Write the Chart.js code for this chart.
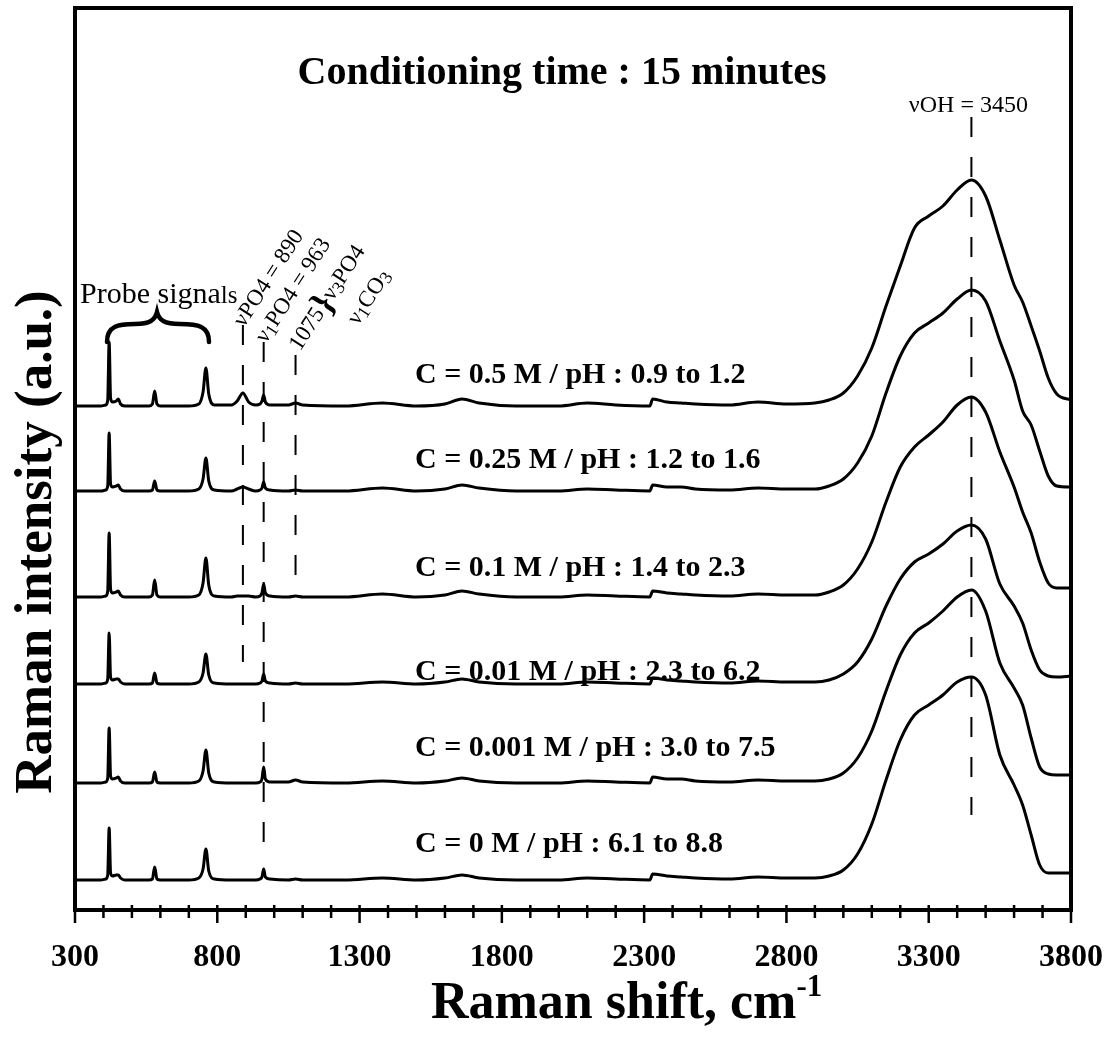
<!DOCTYPE html>
<html>
<head>
<meta charset="utf-8">
<script src="https://cdn.jsdelivr.net/npm/chart.js@4/dist/chart.umd.min.js"></script>
<style>
  html, body { margin: 0; padding: 0; background: #fff; }
  #wrap { width: 1116px; height: 1037px; position: relative; }
</style>
</head>
<body>
<div id="wrap"><canvas id="raman"></canvas></div>
<script>
// Raman shift grid (cm-1), shared by all spectra
const shift = [
  300, 390, 408, 415, 420, 425, 432, 445, 452, 460, 475,
  560, 572, 580, 588, 600,
  700, 735, 750, 760, 770, 790,
  850, 870, 890, 910, 935,
  950, 957, 963, 969, 985,
  1050, 1075, 1100,
  1250, 1380, 1500,
  1600, 1660, 1720, 1850,
  2000, 2100, 2200, 2320, 2330, 2380,
  2430, 2480, 2600, 2700, 2800,
  2900, 2950, 3000, 3050, 3100, 3150, 3200, 3250, 3300, 3350, 3400, 3450, 3500, 3550, 3600, 3630, 3660, 3690, 3720, 3750, 3800
];

// intensities above each spectrum's own baseline (a.u.)
const int_05 = [
  0, 0, 1, 6, 64, 8, 4, 5, 7, 2, 0,
  0, 2, 15, 2, 0,
  0, 2, 14, 38, 12, 1,
  1, 5, 13, 4, 1,
  2, 5, 11, 4, 1,
  1, 3, 1,
  0, 3, 0,
  2, 7, 3, 0,
  0, 3, 1, 0, 7, 4,
  3, 2, 1, 4, 2,
  3, 6, 13, 30, 58, 100, 140, 178, 190, 200, 216, 226, 210, 166, 121, 104, 80, 55, 28, 12, 6
];
const int_025 = [
  0, 0, 1, 5, 58, 7, 4, 5, 6, 2, 0,
  0, 1, 10, 1, 0,
  0, 2, 12, 33, 10, 1,
  0, 2, 4, 2, 0,
  1, 3, 9, 3, 1,
  0, 1, 0,
  0, 3, 0,
  2, 6, 3, 0,
  0, 2, 1, 0, 6, 4,
  4, 2, 1, 3, 2,
  2, 5, 12, 28, 55, 98, 135, 158, 168, 178, 192, 201, 190, 150, 111, 80, 66, 40, 15, 5, 4
];
const int_01 = [
  0, 0, 1, 6, 64, 8, 4, 5, 6, 2, 0,
  0, 2, 17, 2, 0,
  0, 2, 14, 39, 12, 1,
  0, 1, 1, 1, 0,
  1, 4, 13, 4, 1,
  0, 1, 0,
  0, 3, 0,
  2, 6, 3, 0,
  0, 2, 1, 0, 6, 4,
  3, 2, 1, 3, 2,
  2, 5, 12, 28, 55, 95, 130, 150, 162, 175, 192, 200, 185, 145, 110, 85, 64, 35, 14, 9, 9
];
const int_001 = [
  0, 0, 1, 5, 51, 7, 4, 5, 5, 2, 0,
  0, 1, 11, 1, 0,
  0, 2, 11, 30, 9, 1,
  0, 0, 0, 0, 0,
  1, 3, 10, 3, 1,
  0, 1, 0,
  0, 2, 0,
  2, 5, 2, 0,
  0, 2, 1, 0, 6, 4,
  3, 2, 1, 3, 2,
  2, 4, 10, 22, 45, 78, 105, 122, 130, 140, 153, 159, 145, 100, 78, 61, 34, 14, 8, 7, 8
];
const int_0001 = [
  0, 0, 1, 5, 55, 7, 4, 5, 6, 2, 0,
  0, 1, 11, 1, 0,
  0, 2, 12, 33, 10, 1,
  0, 0, 0, 0, 0,
  1, 4, 16, 4, 1,
  1, 3, 1,
  0, 2, 0,
  2, 5, 2, 0,
  0, 2, 1, 0, 6, 4,
  4, 2, 1, 3, 2,
  2, 4, 10, 25, 52, 92, 128, 150, 160, 172, 186, 193, 172, 120, 95, 78, 45, 16, 9, 8, 8
];
const int_0 = [
  0, 0, 1, 5, 52, 7, 4, 5, 5, 2, 0,
  0, 1, 13, 1, 0,
  0, 2, 11, 31, 9, 1,
  0, 0, 0, 0, 0,
  1, 3, 11, 3, 1,
  0, 1, 0,
  0, 2, 0,
  2, 5, 2, 0,
  0, 2, 1, 0, 6, 4,
  3, 2, 1, 3, 2,
  2, 4, 10, 26, 56, 100, 140, 165, 175, 185, 198, 203, 185, 125, 95, 75, 45, 15, 7, 7, 7
];

const seriesLabels = [
  "C = 0.5 M / pH : 0.9 to 1.2",
  "C = 0.25 M / pH : 1.2 to 1.6",
  "C = 0.1 M / pH : 1.4 to 2.3",
  "C = 0.01 M / pH : 2.3 to 6.2",
  "C = 0.001 M / pH : 3.0 to 7.5",
  "C = 0 M / pH : 6.1 to 8.8"
];
const seriesValues = [int_05, int_025, int_01, int_001, int_0001, int_0];
// vertical stacking offset of each spectrum
const offsets = [504, 419, 313, 226, 127, 30];

const xTickLabels = [300, 800, 1300, 1800, 2300, 2800, 3300, 3800];
// band positions marked with dashed lines, and how far down each line runs
const bandLines = [890, 963, 1075, 3450];
const bandLineTop = [585, 568, 555, 793];
const bandLineBottom = [248, 55, 332, 95];

const SERIF = '"Liberation Serif", "Times New Roman", serif';

const datasets = seriesValues.map((vals, i) => ({
  label: seriesLabels[i],
  data: shift.map((x, j) => ({ x: x, y: offsets[i] + vals[j] })),
  borderColor: "#000",
  borderWidth: 3,
  pointRadius: 0,
  fill: false,
  cubicInterpolationMode: "monotone"
}));

function drawRuns(ctx, x, y, angle, runs) {
  ctx.save();
  ctx.translate(x, y);
  ctx.rotate(angle);
  ctx.textBaseline = "alphabetic";
  ctx.textAlign = "left";
  let cx = 0;
  for (const r of runs) {
    ctx.font = (r.bold ? "bold " : "") + r.size + "px " + SERIF;
    ctx.fillText(r.text, cx, r.dy || 0);
    cx += ctx.measureText(r.text).width;
  }
  ctx.restore();
}

const annotations = {
  id: "annotations",
  afterDraw(chart) {
    const ctx = chart.ctx;
    const xs = chart.scales.x;
    const ys = chart.scales.y;
    const area = chart.chartArea;
    ctx.save();
    ctx.fillStyle = "#000";
    ctx.strokeStyle = "#000";

    // frame
    ctx.lineWidth = 4;
    ctx.strokeRect(area.left, area.top, area.right - area.left, area.bottom - area.top);

    // tick marks, major every 500 and minor every 100
    for (let v = 300; v <= 3800; v += 100) {
      const px = xs.getPixelForValue(v);
      const major = xTickLabels.includes(v);
      ctx.lineWidth = 2.5;
      ctx.beginPath();
      ctx.moveTo(px, area.bottom - 5);
      ctx.lineTo(px, area.bottom + (major ? 13 : 8));
      ctx.stroke();
    }

    // dashed band markers
    ctx.lineWidth = 2;
    ctx.setLineDash([20, 20]);
    bandLines.forEach((b, i) => {
      const px = xs.getPixelForValue(b);
      ctx.beginPath();
      ctx.moveTo(px, ys.getPixelForValue(bandLineTop[i]));
      ctx.lineTo(px, ys.getPixelForValue(bandLineBottom[i]));
      ctx.stroke();
    });
    ctx.setLineDash([]);

    // title
    ctx.textAlign = "center";
    ctx.textBaseline = "alphabetic";
    ctx.font = "bold 40px " + SERIF;
    ctx.fillText("Conditioning time : 15 minutes", 562, 84);

    // OH band label
    ctx.font = "24px " + SERIF;
    ctx.fillText("\u03bdOH = 3450", xs.getPixelForValue(3450) - 3, 112);

    // spectrum labels
    ctx.textAlign = "left";
    ctx.font = "bold 30px " + SERIF;
    const labelBase = [383, 468, 576, 680, 756, 852];
    seriesLabels.forEach((t, i) => ctx.fillText(t, 415, labelBase[i]));

    // probe signals with brace
    drawRuns(ctx, 80, 303, 0, [
      { text: "Probe signa", size: 30 },
      { text: "ls", size: 25 }
    ]);
    ctx.lineWidth = 4.5;
    ctx.lineCap = "round";
    ctx.beginPath();
    ctx.moveTo(107, 342);
    ctx.bezierCurveTo(107, 326, 118, 324, 135, 324);
    ctx.bezierCurveTo(150, 324, 155, 320, 157, 312);
    ctx.bezierCurveTo(159, 320, 164, 324, 180, 324);
    ctx.bezierCurveTo(198, 324, 209, 326, 209, 342);
    ctx.stroke();
    ctx.lineCap = "butt";

    // rotated phosphate / carbonate labels
    const ang = -57 * Math.PI / 180;
    drawRuns(ctx, 244, 328, ang, [
      { text: "\u03bdPO4 = 890", size: 23 }
    ]);
    drawRuns(ctx, 266, 344, ang, [
      { text: "\u03bd", size: 23 },
      { text: "1", size: 18, dy: 3 },
      { text: "PO4 = 963", size: 23 }
    ]);
    drawRuns(ctx, 300, 352, ang, [
      { text: "1075", size: 23 },
      { text: "}", size: 36, bold: true, dy: 4 },
      { text: "\u03bd", size: 23 },
      { text: "3", size: 18, dy: 3 },
      { text: "PO4", size: 23 }
    ]);
    drawRuns(ctx, 358, 326, ang, [
      { text: "\u03bd", size: 23 },
      { text: "1", size: 18, dy: 3 },
      { text: "CO", size: 23 },
      { text: "3", size: 18, dy: 3 }
    ]);

    // axis titles
    ctx.save();
    ctx.translate(33, 542);
    ctx.rotate(-Math.PI / 2);
    ctx.textAlign = "center";
    ctx.font = "bold 53px " + SERIF;
    ctx.fillText("Raman intensity (a.u.)", 0, 18);
    ctx.restore();

    drawRuns(ctx, 431, 1018, 0, [
      { text: "Raman shift, cm", size: 52, bold: true },
      { text: "-1", size: 31, bold: true, dy: -22 }
    ]);
    ctx.restore();
  }
};

new Chart(document.getElementById("raman"), {
  type: "line",
  data: { datasets },
  options: {
    responsive: true,
    maintainAspectRatio: false,
    animation: false,
    layout: { padding: { left: 75, right: 45, top: 8, bottom: 0 } },
    plugins: { legend: { display: false }, tooltip: { enabled: false } },
    scales: {
      x: {
        type: "linear",
        min: 300,
        max: 3800,
        afterBuildTicks: s => { s.ticks = xTickLabels.map(v => ({ value: v })); },
        afterFit: s => { s.height = 127; s.paddingLeft = 0; s.paddingRight = 0; },
        grid: { display: false, drawTicks: false },
        border: { display: false },
        ticks: {
          autoSkip: false,
          maxRotation: 0,
          padding: 29,
          color: "#000",
          font: { family: SERIF, size: 32, weight: "bold" },
          callback: v => String(v)
        }
      },
      y: { display: false, min: 0, max: 902 }
    }
  },
  plugins: [annotations]
});
</script>
</body>
</html>
